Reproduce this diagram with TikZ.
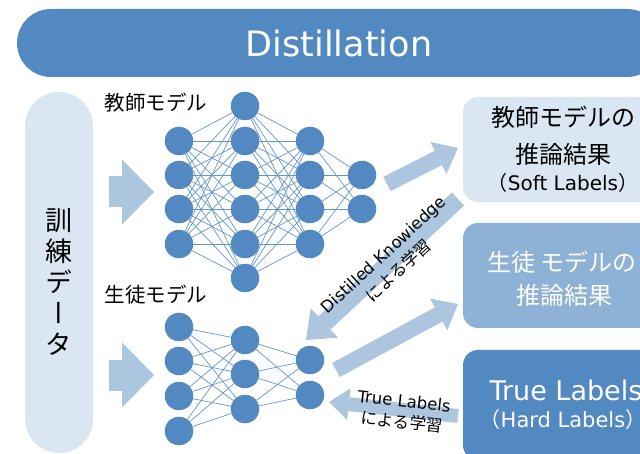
\documentclass[tikz,border=0pt]{standalone}
\usepackage{fontspec}
\setmainfont{DejaVu Sans}
\newfontfamily\jp{Noto Sans CJK JP}
\newfontfamily\jpv[RawFeature=+vert]{Noto Sans CJK JP}
\usetikzlibrary{arrows.meta,backgrounds}
\definecolor{cdark}{HTML}{5289C1}
\definecolor{cmid}{HTML}{8EB2D6}
\definecolor{clight}{HTML}{DAE6F2}
\definecolor{carrow}{HTML}{ADC6E0}
\definecolor{cedge}{HTML}{6296CE}
\newcommand\fs[1]{\fontsize{#1}{#1}\selectfont}
\tikzset{
  neuron/.style={circle, fill=cdark, minimum size=28.5pt, inner sep=0pt},
  link/.style={draw=cedge, line width=0.7pt},
  boxnode/.style={rectangle, rounded corners=15pt, minimum width=200pt, inner sep=0pt},
  fat/.style n args={3}{draw=carrow, line width=#1, -{Triangle[length=#2,width=#3,line width=0pt]}},
  txt/.style={inner sep=0pt},
}
\begin{document}
\begin{tikzpicture}[x=1pt,y=-1pt]
\useasboundingbox (0,0) rectangle (640,454);
\clip (0,0) rectangle (640,454);

% title banner
\node[rectangle, rounded corners=34pt, fill=cdark, minimum width=644pt, minimum height=68pt,
      text=white, font=\fs{35}] (title) at (339,43) {Distillation};

% training data
\node[rectangle, rounded corners=34pt, fill=clight, minimum width=68pt, minimum height=361pt] (data) at (59,272.5) {};
\node[txt, align=center, font=\jpv\fontsize{27}{31}\selectfont] (datatext) at (59,282) {訓\\練\\デ\\ー\\タ};

% input arrows
\coordinate (ta0) at (109,192); \coordinate (ta1) at (154,192);
\coordinate (sa0) at (109,375); \coordinate (sa1) at (154,375);
\draw[fat={31pt}{32pt}{65pt}] (ta0) -- (ta1);
\draw[fat={31pt}{32pt}{65pt}] (sa0) -- (sa1);

% model labels
\node[txt, font=\jp\fs{20.5}] (tlabel) at (156,103) {教師モデル};
\node[txt, font=\jp\fs{20.5}] (slabel) at (156,295) {生徒モデル};

% teacher network
\foreach \i/\y in {1/141,2/175,3/209,4/244} \node[neuron] (t1-\i) at (179,\y) {};
\foreach \i/\y in {1/106,2/141,3/175,4/209,5/244,6/278} \node[neuron] (t2-\i) at (245,\y) {};
\foreach \i/\y in {1/141,2/175,3/209,4/244} \node[neuron] (t3-\i) at (310,\y) {};
\foreach \i/\y in {1/175,2/209} \node[neuron] (t4-\i) at (362,\y) {};
% student network
\foreach \i/\y in {1/327,2/361,3/396,4/431} \node[neuron] (s1-\i) at (179,\y) {};
\foreach \i/\y in {1/340,2/374,3/409} \node[neuron] (s2-\i) at (245,\y) {};
\foreach \i/\y in {1/360,2/395} \node[neuron] (s3-\i) at (310,\y) {};

\begin{scope}[on background layer]
  \foreach \a in {1,...,4} \foreach \b in {1,...,6} \draw[link] (t1-\a) -- (t2-\b);
  \foreach \a in {1,...,6} \foreach \b in {1,...,4} \draw[link] (t2-\a) -- (t3-\b);
  \foreach \a in {1,...,4} \foreach \b in {1,2} \draw[link] (t3-\a) -- (t4-\b);
  \foreach \a in {1,...,4} \foreach \b in {1,2,3} \draw[link] (s1-\a) -- (s2-\b);
  \foreach \a in {1,2,3} \foreach \b in {1,2} \draw[link] (s2-\a) -- (s3-\b);
\end{scope}

% result boxes
\node[boxnode, fill=clight, minimum height=105pt] (soft) at (563,149.5) {};
\node[boxnode, fill=cmid, minimum height=105pt] (pred) at (563,275.5) {};
\node[boxnode, fill=cdark, minimum height=110pt] (hard) at (563,405) {};

\node[txt, font=\jp\fs{24}] (soft1) at (563,117) {教師モデルの};
\node[txt, font=\jp\fs{24}] (soft2) at (563,154) {推論結果};
\node[txt, font=\fs{20}] (soft3) at (563,183) {{\jp （}Soft Labels{\jp ）}};
\node[txt, font=\jp\fs{24}, text=white] (pred1) at (562,262) {生徒 モデルの};
\node[txt, font=\jp\fs{24}, text=white] (pred2) at (564,295) {推論結果};
\node[txt, font=\fs{27}, text=white] (hard1) at (566,390) {True Labels};
\node[txt, font=\fs{21}, text=white] (hard2) at (563,420) {{\jp （}Hard Labels{\jp ）}};

% middle arrows
\coordinate (a1s) at (387,184); \coordinate (a1e) at (458,148);
\coordinate (a2s) at (458,199); \coordinate (a2e) at (306,340);
\coordinate (a3s) at (336,370); \coordinate (a3e) at (458,304);
\coordinate (a4s) at (458,416); \coordinate (a4e) at (329,402);
\draw[fat={16pt}{22pt}{36pt}] (a1s) -- (a1e);
\draw[fat={18pt}{25pt}{40pt}] (a2s) -- (a2e);
\draw[fat={16pt}{22pt}{36pt}] (a3s) -- (a3e);
\draw[fat={14pt}{20pt}{32pt}] (a4s) -- (a4e);

\node[txt, rotate=42.8, align=center, font=\fontsize{16.5}{22}\selectfont] (dk) at (391,263)
  {Distilled Knowiedge\\{\jp による学習}};
\node[txt, rotate=-6.2, align=center, font=\fontsize{16.5}{21}\selectfont] (tl) at (403,412)
  {True Labels\\{\jp による学習}};
\end{tikzpicture}
\end{document}
